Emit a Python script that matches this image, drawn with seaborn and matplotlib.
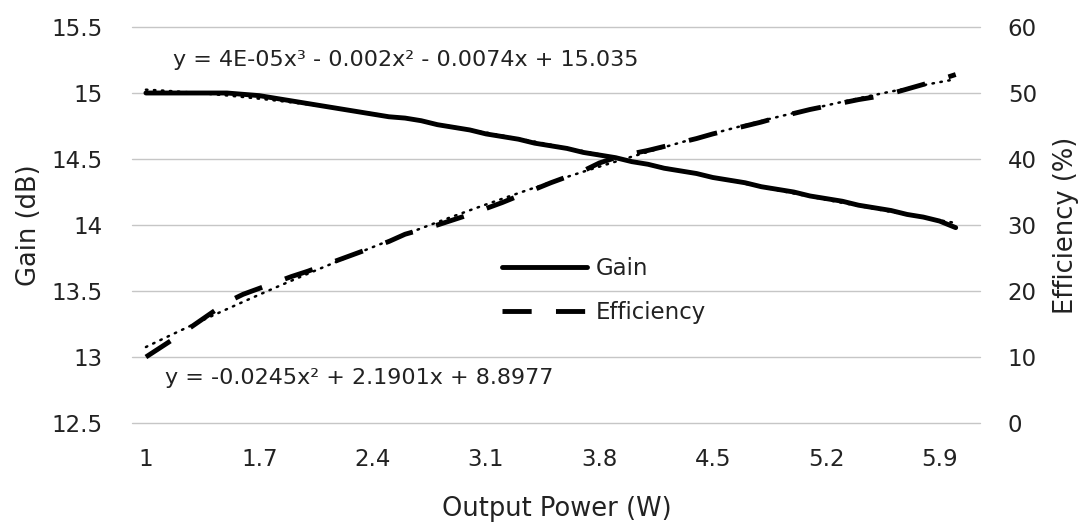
import numpy as np
import pandas as pd
import matplotlib.pyplot as plt
import seaborn as sns

# data
power = [1.0, 1.1, 1.2, 1.3, 1.4, 1.5, 1.6, 1.7, 1.8, 1.9,
         2.0, 2.1, 2.2, 2.3, 2.4, 2.5, 2.6, 2.7, 2.8, 2.9,
         3.0, 3.1, 3.2, 3.3, 3.4, 3.5, 3.6, 3.7, 3.8, 3.9,
         4.0, 4.1, 4.2, 4.3, 4.4, 4.5, 4.6, 4.7, 4.8, 4.9,
         5.0, 5.1, 5.2, 5.3, 5.4, 5.5, 5.6, 5.7, 5.8, 5.9, 6.0]
gain = [15.00, 15.00, 15.00, 15.00, 15.00, 15.00, 14.99, 14.98, 14.96, 14.94,
        14.92, 14.90, 14.88, 14.86, 14.84, 14.82, 14.81, 14.79, 14.76, 14.74,
        14.72, 14.69, 14.67, 14.65, 14.62, 14.60, 14.58, 14.55, 14.53, 14.51,
        14.48, 14.46, 14.43, 14.41, 14.39, 14.36, 14.34, 14.32, 14.29, 14.27,
        14.25, 14.22, 14.20, 14.18, 14.15, 14.13, 14.11, 14.08, 14.06, 14.03, 13.98]
efficiency = [10.0, 11.6, 13.2, 14.9, 16.6, 18.3, 19.5, 20.4, 21.3, 22.2,
              23.0, 23.9, 24.8, 25.7, 26.6, 27.5, 28.6, 29.3, 30.0, 30.8,
              31.6, 32.5, 33.4, 34.4, 35.4, 36.4, 37.3, 38.2, 39.4, 40.2,
              40.8, 41.3, 41.9, 42.5, 43.1, 43.8, 44.4, 45.0, 45.6, 46.3,
              46.9, 47.5, 48.0, 48.5, 49.0, 49.4, 49.9, 50.6, 51.3, 52.0, 52.8]

xtick_vals = [1.0, 1.7, 2.4, 3.1, 3.8, 4.5, 5.2, 5.9]
xtick_labels = ["1", "1.7", "2.4", "3.1", "3.8", "4.5", "5.2", "5.9"]
gain_ticks = [12.5, 13, 13.5, 14, 14.5, 15, 15.5]
gain_labels = ["12.5", "13", "13.5", "14", "14.5", "15", "15.5"]
eff_ticks = [0, 10, 20, 30, 40, 50, 60]

eq_gain = "y = 4E-05x\u00b3 - 0.002x\u00b2 - 0.0074x + 15.035"
eq_eff = "y = -0.0245x\u00b2 + 2.1901x + 8.8977"

df = pd.DataFrame({"Power": power, "Gain": gain, "Efficiency": efficiency})

sns.set_style("white")
plt.rcParams['font.family'] = ['DejaVu Sans']
TXT = '#222222'
FS_TICK = 16.5
FS_EQ = 16
FS_LEG = 16.5
FS_LAB = 18.5

W, H = 1088, 527
fig = plt.figure(figsize=(W / 100, H / 100), dpi=100)
ax = fig.add_axes([132 / W, 1 - 423 / H, 848 / W, 396 / H])
ax2 = ax.twinx()

# dotted trendlines drawn over the data lines
dots = dict(color="black", lw=1.8, linestyle=(0, (0.6, 2.6)), dash_capstyle="round")

sns.lineplot(data=df, x="Power", y="Gain", ax=ax, color="black", lw=3.5,
             label="Gain", legend=False)
sns.regplot(data=df, x="Power", y="Gain", ax=ax, order=3, scatter=False, ci=None,
            line_kws=dots)

sns.lineplot(data=df, x="Power", y="Efficiency", ax=ax2, color="black", lw=3.5,
             linestyle=(0, (6.0, 5.0)), label="Efficiency", legend=False)
sns.regplot(data=df, x="Power", y="Efficiency", ax=ax2, order=2, scatter=False, ci=None,
            line_kws=dots)

ax.set_xlim(0.914, 6.15)
ax.set_ylim(12.5, 15.5)
ax2.set_ylim(0, 60)

ax.set_xticks(xtick_vals)
ax.set_xticklabels(xtick_labels)
ax.set_yticks(gain_ticks)
ax.set_yticklabels(gain_labels)
ax2.set_yticks(eff_ticks)

ax.grid(axis="y", color="#c6c6c6", lw=1)
ax.grid(axis="x", visible=False)
for gl in ax.get_ygridlines():
    gl.set_clip_on(False)
ax2.grid(False)
for a in (ax, ax2):
    for s in a.spines.values():
        s.set_visible(False)
    a.tick_params(length=0, labelsize=FS_TICK, labelcolor=TXT)
ax.tick_params(axis="x", pad=18)
ax.tick_params(axis="y", pad=21)
ax2.tick_params(axis="y", pad=20)

ax.set_xlabel("Output Power (W)", fontsize=FS_LAB, color=TXT)
ax.set_ylabel("Gain (dB)", fontsize=FS_LAB, color=TXT)
ax2.set_ylabel("Efficiency (%)", fontsize=FS_LAB, color=TXT, rotation=90)
ax.xaxis.set_label_coords(0.501, -0.185)
ax.yaxis.set_label_coords(-0.106, 0.5)
ax2.yaxis.set_label_coords(1.086, 0.5)

fig.text(173 / W, 1 - 60 / H, eq_gain, fontsize=FS_EQ, color=TXT, va="center")
fig.text(165 / W, 1 - 378 / H, eq_eff, fontsize=FS_EQ, color=TXT, va="center")

h1 = ax.lines[0]
h2 = ax2.lines[0]
leg = ax2.legend([h1, h2], ["Gain", "Efficiency"], loc="upper left",
                 bbox_to_anchor=(502 / W, 1 - 257 / H), bbox_transform=fig.transFigure,
                 frameon=False, fontsize=FS_LEG, handlelength=3.7, handletextpad=0.4,
                 labelspacing=0.9, borderpad=0, borderaxespad=0)
for t in leg.get_texts():
    t.set_color(TXT)

fig.savefig("out.png", dpi=100)
